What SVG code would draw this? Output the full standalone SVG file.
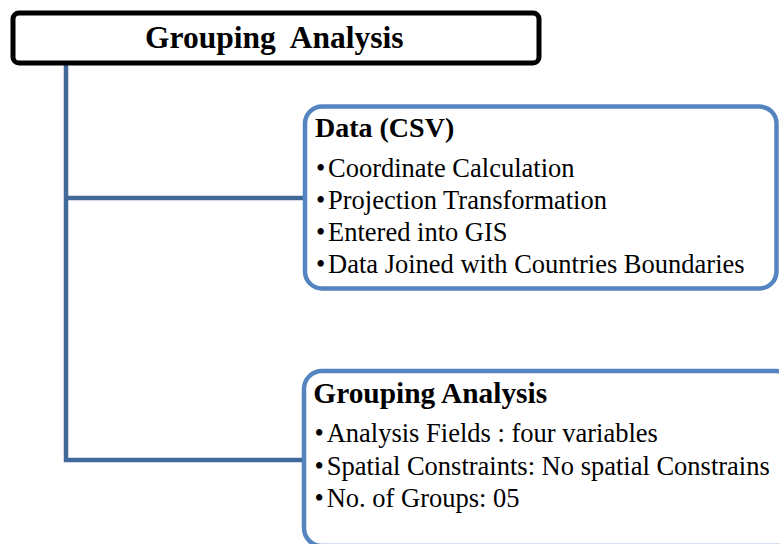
<svg xmlns="http://www.w3.org/2000/svg" width="779" height="544" viewBox="0 0 779 544">
<style>
text{font-family:'Liberation Serif',serif;fill:#000}
.b{font-weight:bold}
.item{font-size:26.5px}
.box{fill:#fff;stroke:#5585C0;stroke-width:4.5}
.conn{fill:none;stroke:#41699A;stroke-width:4.5;stroke-linejoin:miter}
</style>
<rect width="779" height="544" fill="#fff"/>
<g id="connectors">
<path class="conn" d="M66,63 V460 H306"/>
<path class="conn" d="M66,198 H306"/>
</g>
<g id="root">
<rect x="13" y="13" width="526" height="50" rx="6" fill="#fff" stroke="#000" stroke-width="5"/>
<text class="b" x="145" y="48.3" font-size="31.5">Grouping&#160; Analysis</text>
</g>
<g id="data-csv">
<rect class="box" x="305" y="106.5" width="471.5" height="182" rx="17"/>
<text class="b" x="315" y="137.3" font-size="28">Data (CSV)</text>
<text class="item" x="316" y="177.3">•</text>
<text class="item" x="328" y="177.3">Coordinate Calculation</text>
<text class="item" x="316" y="209.3">•</text>
<text class="item" x="328" y="209.3">Projection Transformation</text>
<text class="item" x="316" y="241.3">•</text>
<text class="item" x="328" y="241.3">Entered into GIS</text>
<text class="item" x="316" y="273.3">•</text>
<text class="item" x="328" y="273.3">Data Joined with Countries Boundaries</text>
</g>
<g id="grouping-analysis">
<rect class="box" x="304" y="371" width="490" height="175" rx="18"/>
<text class="b" x="313.3" y="402.7" font-size="29.4">Grouping Analysis</text>
<text class="item" x="314.5" y="441.7">•</text>
<text class="item" x="326.7" y="441.7">Analysis Fields : four variables</text>
<text class="item" x="314.5" y="475">•</text>
<text class="item" x="326.7" y="475">Spatial Constraints: No spatial Constrains</text>
<text class="item" x="314.5" y="506.7">•</text>
<text class="item" x="326.7" y="506.7">No. of Groups: 05</text>
</g>
</svg>
